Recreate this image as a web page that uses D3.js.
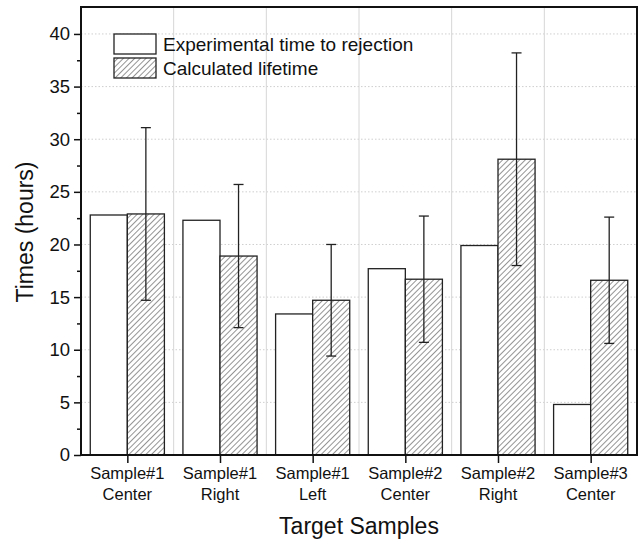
<!DOCTYPE html>
<html><head><meta charset="utf-8">
<script src="https://cdn.jsdelivr.net/npm/d3@7"></script>
<style>body{margin:0;background:#fff}svg{display:block}text{font-family:"Liberation Sans",Arial,sans-serif;fill:#111}</style>
</head><body><svg id="c" width="642" height="542"></svg>
<script>
const categories = ["Sample#1\nCenter","Sample#1\nRight","Sample#1\nLeft","Sample#2\nCenter","Sample#2\nRight","Sample#3\nCenter"];
const experimental = [22.8, 22.3, 13.4, 17.7, 19.9, 4.8];
const calculated = [22.9, 18.9, 14.7, 16.7, 28.1, 16.6];
const calcError = [8.2, 6.8, 5.3, 6.0, 10.1, 6.0];
const yTicks = [0,5,10,15,20,25,30,35,40];
const seriesNames = ["Experimental time to rejection","Calculated lifetime"];

const svg = d3.select("#c");
const m = {l:81, r:637, t:7, b:455};
const x = d3.scaleBand().domain(d3.range(categories.length)).range([m.l, m.r]).padding(0);
const y = d3.scaleLinear().domain([0, 42.56]).range([m.b, m.t]);

const defs = svg.append("defs");
const pat = defs.append("pattern").attr("id","hatch").attr("patternUnits","userSpaceOnUse")
  .attr("width",4).attr("height",4).attr("patternTransform","rotate(45)");
pat.append("rect").attr("width",4).attr("height",4).attr("fill","#fff");
pat.append("line").attr("x1",0).attr("y1",0).attr("x2",0).attr("y2",4).attr("stroke","#3a3a3a").attr("stroke-width",1.1);

// grid
svg.append("g").selectAll("line").data(yTicks.filter(d=>d>0)).join("line")
  .attr("x1",m.l).attr("x2",m.r).attr("y1",d=>y(d)).attr("y2",d=>y(d))
  .attr("stroke","#cfcfcf").attr("stroke-dasharray","1.5,2").attr("stroke-width",1);
svg.append("g").selectAll("line").data(d3.range(1,categories.length)).join("line")
  .attr("x1",d=>x(d)).attr("x2",d=>x(d)).attr("y1",m.t).attr("y2",m.b)
  .attr("stroke","#d6d6d6").attr("stroke-width",1);

const bw = x.bandwidth()*0.4;
const c = i => x(i) + x.bandwidth()/2;
svg.append("g").selectAll("rect").data(experimental).join("rect")
  .attr("x",(d,i)=>c(i)-bw).attr("width",bw).attr("y",d=>y(d)).attr("height",d=>y(0)-y(d))
  .attr("fill","#fff").attr("stroke","#222").attr("stroke-width",1.3);
svg.append("g").selectAll("rect").data(calculated).join("rect")
  .attr("x",(d,i)=>c(i)).attr("width",bw).attr("y",d=>y(d)).attr("height",d=>y(0)-y(d))
  .attr("fill","url(#hatch)").attr("stroke","#222").attr("stroke-width",1.3);

// error bars
const eb = svg.append("g").attr("stroke","#222").attr("stroke-width",1.3);
calculated.forEach((v,i)=>{
  const cx = c(i)+bw/2, e = calcError[i];
  eb.append("line").attr("x1",cx).attr("x2",cx).attr("y1",y(v+e)).attr("y2",y(v-e));
  eb.append("line").attr("x1",cx-5).attr("x2",cx+5).attr("y1",y(v+e)).attr("y2",y(v+e));
  eb.append("line").attr("x1",cx-5).attr("x2",cx+5).attr("y1",y(v-e)).attr("y2",y(v-e));
});

// axes
const yAxis = d3.axisLeft(y).tickValues(yTicks).tickSize(7).tickPadding(4);
const gy = svg.append("g").attr("transform",`translate(${m.l},0)`).call(yAxis);
gy.select(".domain").remove();
gy.selectAll("line").attr("stroke","#111").attr("stroke-width",1.5);
gy.selectAll("text").attr("font-size",18.5).attr("fill","#111").style("font-family","Liberation Sans, Arial");
const yMinor = d3.axisLeft(y).tickValues(d3.range(2.5,42,5)).tickSize(4).tickFormat("");
const gym = svg.append("g").attr("transform",`translate(${m.l},0)`).call(yMinor);
gym.select(".domain").remove();
gym.selectAll("line").attr("stroke","#111").attr("stroke-width",1.5);

const xAxis = d3.axisBottom(d3.scalePoint().domain(d3.range(categories.length)).range([c(0),c(categories.length-1)]))
  .tickSize(8).tickFormat("");
const gx = svg.append("g").attr("transform",`translate(0,${m.b})`).call(xAxis);
gx.select(".domain").remove();
gx.selectAll("line").attr("stroke","#111").attr("stroke-width",1.5);
categories.forEach((t,i)=>{
  const lines = t.split("\n");
  const tx = svg.append("text").attr("x",c(i)).attr("y",479).attr("text-anchor","middle").attr("font-size",16.5);
  lines.forEach((l,k)=>tx.append("tspan").attr("x",c(i)).attr("dy",k?21:0).text(l));
});

// frame
svg.append("rect").attr("x",m.l).attr("y",m.t).attr("width",m.r-m.l).attr("height",m.b-m.t)
  .attr("fill","none").attr("stroke","#111").attr("stroke-width",2);

// titles
svg.append("text").attr("x",(m.l+m.r)/2).attr("y",534).attr("text-anchor","middle").attr("font-size",23).text("Target Samples");
svg.append("text").attr("transform",`translate(33,232) rotate(-90)`).attr("text-anchor","middle").attr("font-size",23).text("Times (hours)");

// legend
const lg = svg.append("g");
seriesNames.forEach((n,i)=>{
  lg.append("rect").attr("x",114).attr("y",34+i*24).attr("width",42).attr("height",20)
    .attr("fill", i? "url(#hatch)":"#fff").attr("stroke","#222").attr("stroke-width",1.3);
  lg.append("text").attr("x",163).attr("y",51+i*24).attr("font-size",19).text(n);
});
</script></body></html>
